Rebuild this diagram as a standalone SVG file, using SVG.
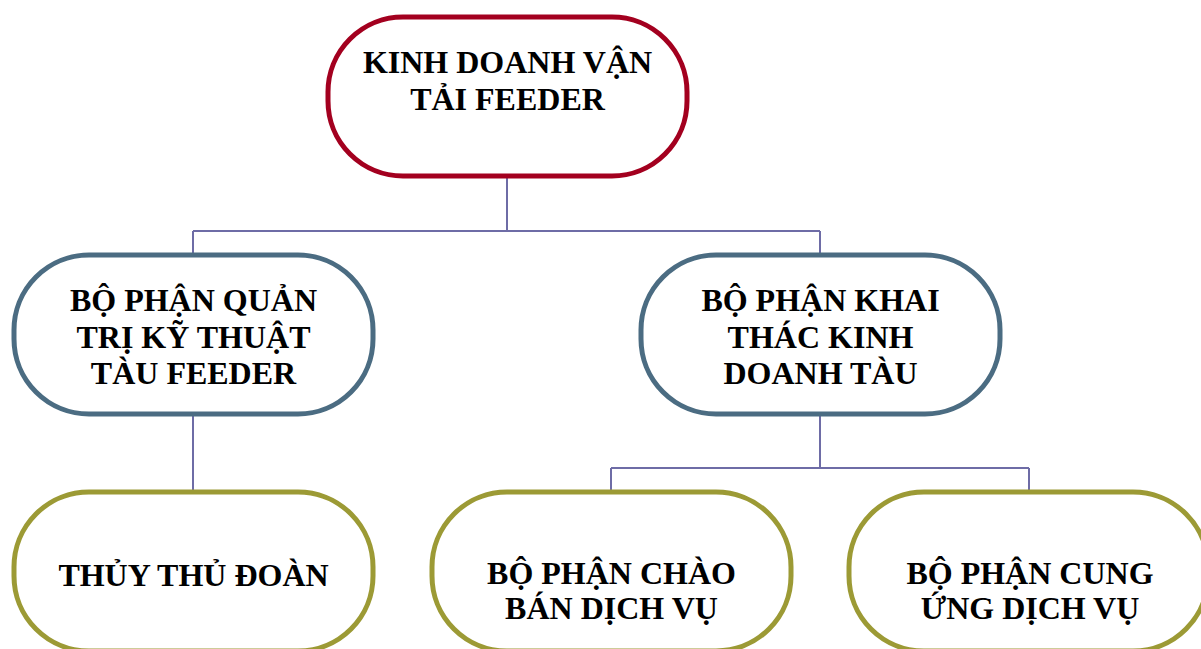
<svg xmlns="http://www.w3.org/2000/svg" width="1201" height="649" viewBox="0 0 1201 649">
<style>
.n{fill:#fff;stroke-width:5}
.top{stroke:#A3001F}
.mid{stroke:#4B6C82}
.bot{stroke:#9C9A35}
.t{font-family:"Liberation Serif","Times New Roman",serif;font-weight:bold;font-size:32px;fill:#000;text-anchor:middle}
.c{fill:none;stroke:#6E6CA6;stroke-width:2}
</style>
<rect width="1201" height="649" fill="#fff"/>
<g id="connectors">
<path class="c" d="M507,178 V231 M193,231 H820 M193,231 V254 M820,231 V254"/>
<path class="c" d="M193,414 V491"/>
<path class="c" d="M820,414 V468 M611,468 H1029 M611,468 V491 M1029,468 V491"/>
</g>
<g id="n1">
<rect class="n top" x="328" y="17" width="359" height="159" rx="75" ry="75"/>
<text class="t" x="507.5" y="73">KINH DOANH VẬN</text>
<text class="t" x="507.5" y="110">TẢI FEEDER</text>
</g>
<g id="n2">
<rect class="n mid" x="14" y="255" width="359" height="159" rx="75" ry="75"/>
<text class="t" x="193.5" y="311">BỘ PHẬN QUẢN</text>
<text class="t" x="193.5" y="348">TRỊ KỸ THUẬT</text>
<text class="t" x="193.5" y="384">TÀU FEEDER</text>
</g>
<g id="n3">
<rect class="n mid" x="641" y="255" width="359" height="159" rx="75" ry="75"/>
<text class="t" x="820.5" y="311">BỘ PHẬN KHAI</text>
<text class="t" x="820.5" y="348">THÁC KINH</text>
<text class="t" x="820.5" y="384">DOANH TÀU</text>
</g>
<g id="n4">
<rect class="n bot" x="14" y="492" width="359" height="159" rx="75" ry="75"/>
<text class="t" x="193.5" y="586">THỦY THỦ ĐOÀN</text>
</g>
<g id="n5">
<rect class="n bot" x="432" y="492" width="359" height="159" rx="75" ry="75"/>
<text class="t" x="611.5" y="584">BỘ PHẬN CHÀO</text>
<text class="t" x="611.5" y="619">BÁN DỊCH VỤ</text>
</g>
<g id="n6">
<rect class="n bot" x="849" y="492" width="359" height="159" rx="75" ry="75"/>
<text class="t" x="1030" y="584">BỘ PHẬN CUNG</text>
<text class="t" x="1030" y="619">ỨNG DỊCH VỤ</text>
</g>
</svg>
